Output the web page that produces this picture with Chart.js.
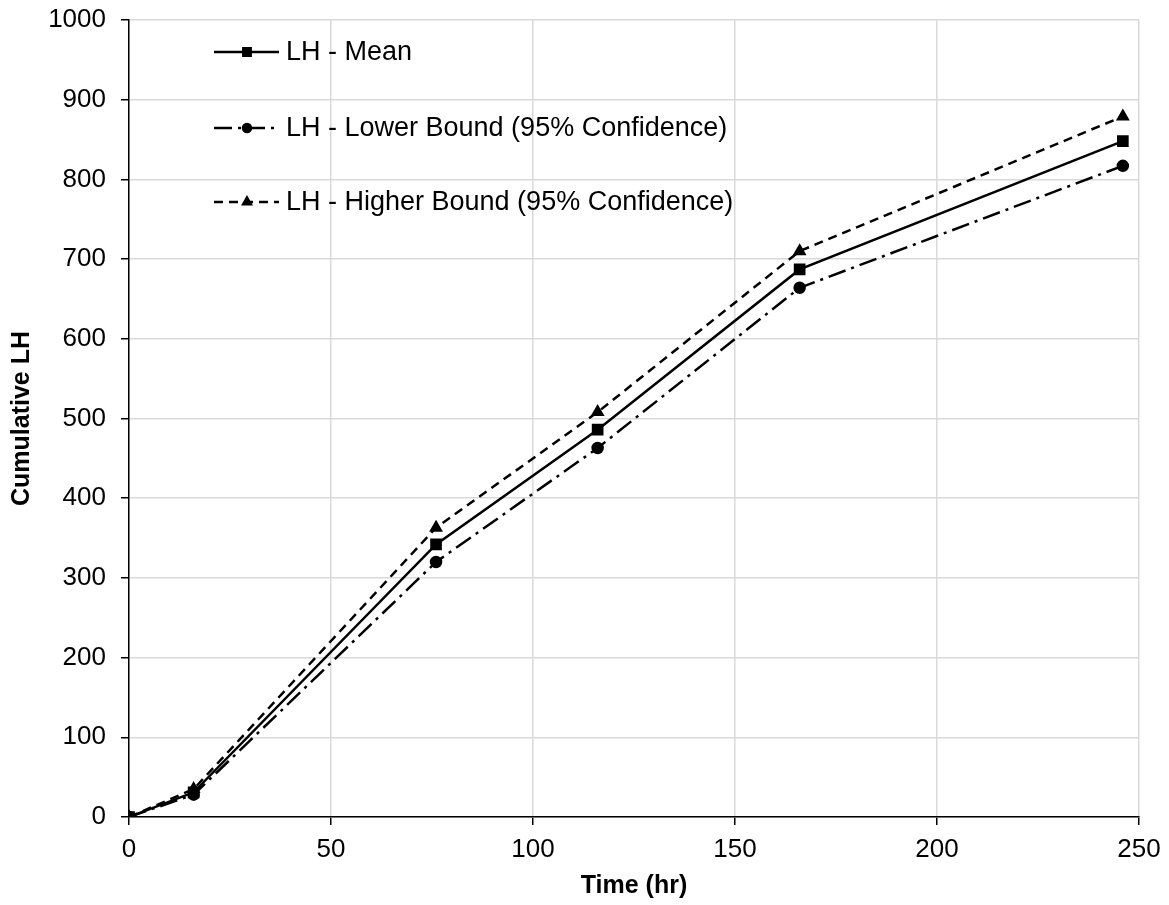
<!DOCTYPE html>
<html>
<head>
<meta charset="utf-8">
<script src="https://cdn.jsdelivr.net/npm/chart.js@4"></script>
<style>
  html, body { margin: 0; padding: 0; background: #fff; }
  #wrap { width: 1169px; height: 905px; }
</style>
</head>
<body>
<div id="wrap"><canvas id="myChart" width="1169" height="905"></canvas></div>
<script>
const hours = [0, 16, 76, 116, 166, 246];
const lhMean = [0, 31, 342, 486, 687, 848];
const lhLower = [0, 28, 320, 463, 664, 817];
const lhHigher = [0, 35, 363, 508, 710, 879];
const xTicks = [0, 50, 100, 150, 200, 250];
const yTicks = [0, 100, 200, 300, 400, 500, 600, 700, 800, 900, 1000];

const FONT = "'Liberation Sans', Arial, sans-serif";

const toPoints = ys => hours.map((h, i) => ({x: h, y: ys[i]}));

// legend drawn inside the plot area, like the original
const insideLegend = {
    id: 'insideLegend',
    afterDatasetsDraw(chart) {
        const ctx = chart.ctx;
        const rows = [52, 128, 202];
        chart.data.datasets.forEach((ds, i) => {
            const y = rows[i];
            ctx.save();
            ctx.strokeStyle = ds.borderColor;
            ctx.lineWidth = ds.borderWidth;
            ctx.setLineDash(ds.borderDash || []);
            ctx.beginPath();
            ctx.moveTo(214, y);
            ctx.lineTo(279, y);
            ctx.stroke();
            ctx.setLineDash([]);
            Chart.helpers.drawPoint(ctx, {
                pointStyle: ds.pointStyle,
                radius: ds.pointRadius * 0.8,
                rotation: 0,
                borderWidth: 1
            }, 247, y);
            ctx.fillStyle = '#000';
            ctx.font = '27px ' + FONT;
            ctx.textBaseline = 'middle';
            ctx.fillText(ds.label, 286, y + 1);
            ctx.restore();
        });
    }
};

const common = {
    borderColor: '#000',
    backgroundColor: '#000',
    pointBorderColor: '#000',
    pointBackgroundColor: '#000',
    borderWidth: 2.5,
    tension: 0,
    fill: false
};

const data = {
    datasets: [
        Object.assign({}, common, {
            label: 'LH - Mean',
            data: toPoints(lhMean),
            pointStyle: 'rect',
            pointRadius: 6.5
        }),
        Object.assign({}, common, {
            label: 'LH - Lower Bound (95% Confidence)',
            data: toPoints(lhLower),
            pointStyle: 'circle',
            pointRadius: 5,
            borderDash: [18, 6, 3, 6]
        }),
        Object.assign({}, common, {
            label: 'LH - Higher Bound (95% Confidence)',
            data: toPoints(lhHigher),
            pointStyle: 'triangle',
            pointRadius: 5.5,
            borderDash: [9, 6]
        })
    ]
};

const config = {
    type: 'scatter',
    data: data,
    options: {
        responsive: false,
        animation: false,
        showLine: true,
        layout: {padding: {top: 20, right: 30, left: 0, bottom: 0}},
        plugins: {
            legend: {display: false},
            tooltip: {enabled: false}
        },
        scales: {
            x: {
                type: 'linear',
                min: 0,
                max: 250,
                afterBuildTicks: axis => { axis.ticks = xTicks.map(v => ({value: v})); },
                afterFit: axis => { axis.height = 88; axis.paddingLeft = 0; axis.paddingRight = 0; },
                grid: {color: '#d9d9d9', lineWidth: 1.5, tickLength: 8, tickColor: '#000'},
                border: {color: '#000', width: 1.5},
                ticks: {color: '#000', font: {family: FONT, size: 26}, padding: 9, maxRotation: 0,
                        callback: v => String(v)},
                title: {display: true, text: 'Time (hr)', color: '#000',
                        font: {family: FONT, size: 25, weight: 'bold'}, padding: {top: 0, bottom: 4}}
            },
            y: {
                type: 'linear',
                min: 0,
                max: 1000,
                afterBuildTicks: axis => { axis.ticks = yTicks.map(v => ({value: v})); },
                afterFit: axis => { axis.width = 129; axis.paddingTop = 0; axis.paddingBottom = 0; },
                grid: {color: '#d9d9d9', lineWidth: 1.5, tickLength: 8, tickColor: '#000'},
                border: {color: '#000', width: 1.5},
                ticks: {color: '#000', font: {family: FONT, size: 26}, padding: 15,
                        callback: v => String(v)},
                title: {display: true, text: 'Cumulative LH', color: '#000',
                        font: {family: FONT, size: 25, weight: 'bold'}, padding: {top: 7, bottom: 0}}
            }
        }
    },
    plugins: [insideLegend]
};

const myChart = new Chart(document.getElementById('myChart').getContext('2d'), config);
</script>
</body>
</html>
